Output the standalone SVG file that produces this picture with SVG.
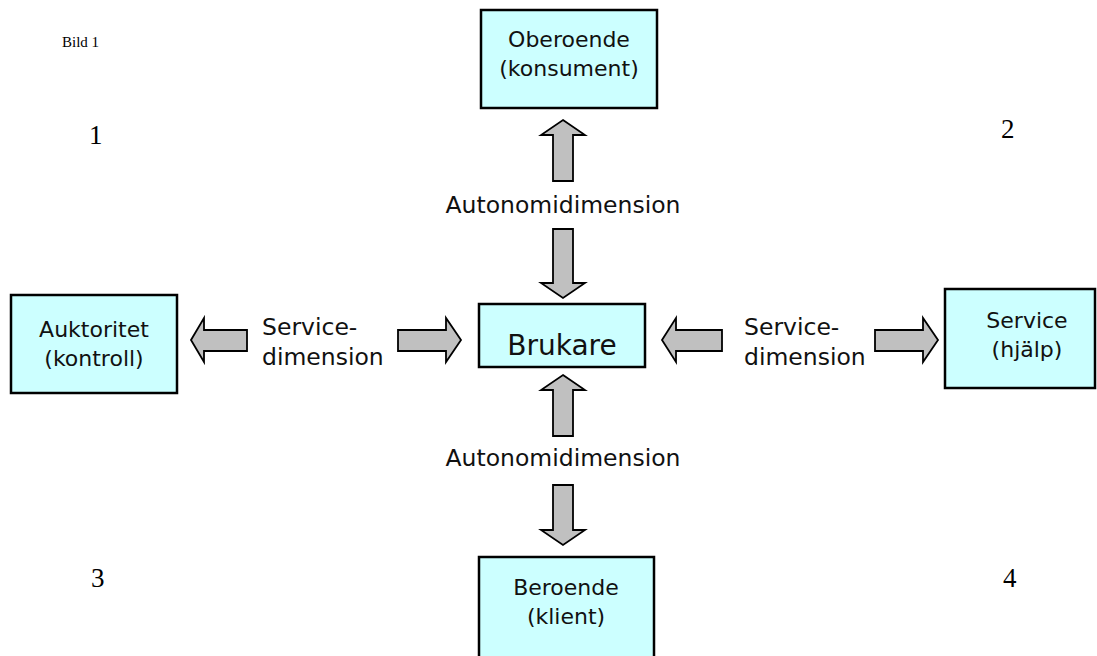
<svg xmlns="http://www.w3.org/2000/svg" width="1097" height="656" viewBox="0 0 1097 656">
  <style>
    .box { fill: #CCFFFF; stroke: #000; stroke-width: 2.5; }
    .arrow { fill: #C0C0C0; stroke: #000; stroke-width: 1.8; stroke-linejoin: miter; }
    .lbl { font-family: "DejaVu Sans", Verdana, sans-serif; font-size: 23.5px; fill: #111; }
    .node { font-family: "DejaVu Sans", Verdana, sans-serif; font-size: 22px; fill: #111; text-anchor: middle; }
    .node.big { font-size: 28px; }
    .num { font-family: "Liberation Serif", "Times New Roman", serif; font-size: 27px; fill: #000; }
  </style>
  <rect width="1097" height="656" fill="#fff"/>

  <text x="62" y="47" font-family="Liberation Serif, Times New Roman, serif" font-size="15" fill="#000">Bild 1</text>
  <text class="num" x="89" y="144">1</text>
  <text class="num" x="1001" y="138">2</text>
  <text class="num" x="91" y="587">3</text>
  <text class="num" x="1003" y="587">4</text>

  <g id="node-oberoende">
    <rect class="box" x="481" y="10" width="176" height="98"/>
    <text class="node" x="569" y="47">Oberoende</text>
    <text class="node" x="569" y="76">(konsument)</text>
  </g>

  <g id="node-auktoritet">
    <rect class="box" x="11" y="295" width="166" height="98"/>
    <text class="node" x="94" y="337">Auktoritet</text>
    <text class="node" x="94" y="366">(kontroll)</text>
  </g>

  <g id="node-brukare">
    <rect class="box" x="479" y="304" width="166" height="63"/>
    <text class="node big" x="562" y="355">Brukare</text>
  </g>

  <g id="node-service">
    <rect class="box" x="945" y="289" width="150" height="99"/>
    <text class="node" x="1027" y="328">Service</text>
    <text class="node" x="1027" y="357">(hjälp)</text>
  </g>

  <g id="node-beroende">
    <rect class="box" x="479" y="557" width="175" height="110"/>
    <text class="node" x="566" y="595">Beroende</text>
    <text class="node" x="566" y="624">(klient)</text>
  </g>

  <g id="connectors">
    <!-- vertical: Brukare up to Oberoende -->
    <polygon class="arrow" points="563,120 585,135 573,135 573,181 553,181 553,135 541,135"/>
    <polygon class="arrow" points="553,229 573,229 573,283 585,283 563,298 541,283 553,283"/>
    <text class="lbl" x="563" y="213" text-anchor="middle">Autonomidimension</text>

    <!-- vertical: Brukare down to Beroende -->
    <polygon class="arrow" points="563,375 585,390 573,390 573,436 553,436 553,390 541,390"/>
    <polygon class="arrow" points="553,485 573,485 573,530 585,530 563,545 541,530 553,530"/>
    <text class="lbl" x="563" y="466" text-anchor="middle">Autonomidimension</text>

    <!-- horizontal: left side -->
    <polygon class="arrow" points="191,340 204,318 204,330 247,330 247,351 204,351 204,362"/>
    <polygon class="arrow" points="398,330 446,330 446,318 461,340 446,362 446,351 398,351"/>
    <text class="lbl" x="262" y="335">Service-</text>
    <text class="lbl" x="262" y="365">dimension</text>

    <!-- horizontal: right side -->
    <polygon class="arrow" points="662,340 676,318 676,330 722,330 722,351 676,351 676,362"/>
    <polygon class="arrow" points="875,330 923,330 923,318 938,340 923,362 923,351 875,351"/>
    <text class="lbl" x="744" y="335">Service-</text>
    <text class="lbl" x="744" y="365">dimension</text>
  </g>
</svg>
